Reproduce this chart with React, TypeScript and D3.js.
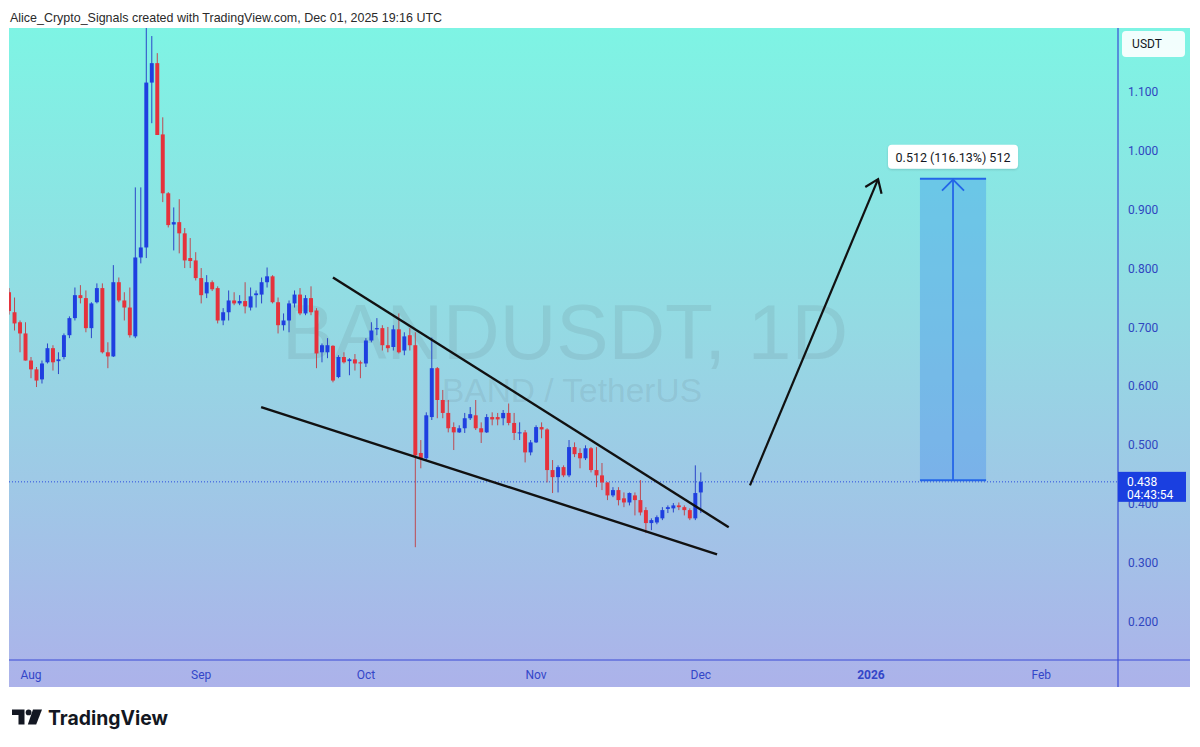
import React from "react";
import * as d3 from "d3";

// ---------------- DATA ----------------
const FIRST_DAY = "2025-07-28";
const LAST_DAY_EXCL = "2025-12-02";

const OPEN = [
  0.760, 0.726, 0.709, 0.690,
  0.644, 0.629, 0.612, 0.641, 0.665, 0.643, 0.650, 0.687, 0.716, 0.755, 0.750, 0.699, 0.743, 0.767, 0.658, 0.651,
  0.777, 0.746, 0.734, 0.685, 0.819, 0.836, 1.116, 1.149, 1.028, 0.928, 0.875, 0.879, 0.860, 0.818, 0.814,
  0.784, 0.758, 0.777, 0.767, 0.712, 0.726, 0.746, 0.741, 0.745, 0.734, 0.755, 0.756, 0.777, 0.787, 0.743,
  0.704, 0.712, 0.741, 0.756, 0.724, 0.750, 0.729, 0.658, 0.658, 0.669, 0.616, 0.650, 0.643, 0.646, 0.641,
  0.639, 0.678, 0.697, 0.699, 0.670, 0.667, 0.697, 0.661, 0.687, 0.670, 0.487, 0.478, 0.548, 0.631, 0.577,
  0.555, 0.531, 0.522, 0.529, 0.546, 0.551, 0.529, 0.522, 0.548, 0.548, 0.546, 0.555, 0.538, 0.521, 0.522,
  0.488, 0.505, 0.531, 0.527, 0.458, 0.446, 0.463, 0.449, 0.497, 0.487, 0.478, 0.495, 0.458, 0.449, 0.437,
  0.415, 0.424, 0.410, 0.403, 0.415, 0.407, 0.390, 0.368, 0.369, 0.376, 0.392, 0.393, 0.398, 0.395, 0.390,
  0.376, 0.420,
];
const HIGH = [
  0.767, 0.751, 0.712, 0.709,
  0.650, 0.633, 0.644, 0.673, 0.670, 0.658, 0.690, 0.719, 0.768, 0.772, 0.763, 0.743, 0.775, 0.775, 0.675, 0.806,
  0.785, 0.760, 0.768, 0.938, 0.938, 1.210, 1.195, 1.166, 1.057, 0.930, 0.904, 0.918, 0.869, 0.852, 0.828,
  0.801, 0.789, 0.780, 0.770, 0.733, 0.763, 0.760, 0.755, 0.777, 0.768, 0.763, 0.785, 0.802, 0.789, 0.751,
  0.724, 0.746, 0.763, 0.767, 0.755, 0.770, 0.733, 0.673, 0.682, 0.670, 0.653, 0.658, 0.648, 0.655, 0.644,
  0.682, 0.709, 0.716, 0.704, 0.701, 0.704, 0.724, 0.692, 0.699, 0.692, 0.509, 0.556, 0.683, 0.633, 0.594,
  0.577, 0.539, 0.534, 0.555, 0.565, 0.577, 0.539, 0.553, 0.556, 0.555, 0.560, 0.571, 0.555, 0.539, 0.526,
  0.509, 0.534, 0.539, 0.529, 0.475, 0.466, 0.466, 0.509, 0.505, 0.495, 0.500, 0.497, 0.497, 0.470, 0.437,
  0.429, 0.429, 0.420, 0.420, 0.420, 0.441, 0.395, 0.376, 0.381, 0.395, 0.398, 0.402, 0.403, 0.398, 0.393,
  0.466, 0.454,
];
const LOW = [
  0.722, 0.695, 0.658, 0.644,
  0.614, 0.599, 0.605, 0.639, 0.627, 0.621, 0.646, 0.682, 0.712, 0.741, 0.692, 0.682, 0.741, 0.656, 0.631, 0.650,
  0.743, 0.712, 0.683, 0.682, 0.809, 0.818, 1.047, 1.027, 0.913, 0.870, 0.831, 0.826, 0.801, 0.801, 0.780,
  0.741, 0.750, 0.762, 0.707, 0.704, 0.712, 0.738, 0.738, 0.724, 0.729, 0.734, 0.741, 0.768, 0.741, 0.690,
  0.695, 0.692, 0.734, 0.721, 0.721, 0.721, 0.631, 0.641, 0.648, 0.607, 0.614, 0.639, 0.619, 0.627, 0.614,
  0.633, 0.675, 0.687, 0.661, 0.658, 0.661, 0.656, 0.653, 0.661, 0.327, 0.461, 0.475, 0.543, 0.546, 0.546,
  0.522, 0.492, 0.521, 0.521, 0.543, 0.526, 0.504, 0.521, 0.534, 0.534, 0.534, 0.534, 0.509, 0.509, 0.471,
  0.483, 0.504, 0.512, 0.437, 0.419, 0.420, 0.446, 0.446, 0.480, 0.461, 0.475, 0.454, 0.429, 0.424, 0.407,
  0.412, 0.398, 0.395, 0.398, 0.381, 0.381, 0.351, 0.356, 0.366, 0.373, 0.385, 0.386, 0.390, 0.381, 0.373,
  0.373, 0.385,
];
const CLOSE = [
  0.728, 0.707, 0.690, 0.644,
  0.629, 0.610, 0.639, 0.665, 0.641, 0.646, 0.687, 0.716, 0.755, 0.750, 0.699, 0.741, 0.767, 0.658, 0.651, 0.777,
  0.746, 0.734, 0.687, 0.819, 0.836, 1.116, 1.149, 1.027, 0.928, 0.874, 0.879, 0.860, 0.814, 0.813, 0.784,
  0.755, 0.777, 0.765, 0.712, 0.726, 0.746, 0.741, 0.745, 0.736, 0.753, 0.758, 0.777, 0.787, 0.743, 0.704,
  0.712, 0.741, 0.756, 0.724, 0.750, 0.726, 0.656, 0.670, 0.670, 0.610, 0.650, 0.641, 0.646, 0.639, 0.639,
  0.678, 0.695, 0.699, 0.670, 0.665, 0.697, 0.658, 0.685, 0.670, 0.483, 0.478, 0.551, 0.631, 0.577, 0.555,
  0.529, 0.522, 0.529, 0.546, 0.553, 0.529, 0.522, 0.548, 0.544, 0.544, 0.555, 0.538, 0.521, 0.522, 0.488,
  0.505, 0.531, 0.527, 0.458, 0.446, 0.463, 0.449, 0.497, 0.485, 0.478, 0.495, 0.458, 0.449, 0.437, 0.415,
  0.424, 0.407, 0.403, 0.419, 0.407, 0.386, 0.368, 0.373, 0.378, 0.390, 0.395, 0.398, 0.395, 0.390, 0.376,
  0.419, 0.438,
];

const PRICE_TICKS = [0.2, 0.3, 0.4, 0.5, 0.6, 0.7, 0.8, 0.9, 1.0, 1.1];
const TIME_TICKS = ["2025-08-01", "2025-09-01", "2025-10-01", "2025-11-01", "2025-12-01", "2026-01-01", "2026-02-01"];
const TIME_LABELS = ["Aug", "Sep", "Oct", "Nov", "Dec", "2026", "Feb"];

const LAST_PRICE = 0.438;
const COUNTDOWN = "04:43:54";

// drawings (date, price)
const UPPER_TREND = [
  { t: "2025-09-25T00:00Z", p: 0.785 },
  { t: "2025-12-06T02:00Z", p: 0.361 },
];
const LOWER_TREND = [
  { t: "2025-09-11T22:00Z", p: 0.565 },
  { t: "2025-12-03T23:00Z", p: 0.315 },
];
const ARROW = [
  { t: "2025-12-09T23:00Z", p: 0.432 },
  { t: "2026-01-02T07:00Z", p: 0.952 },
];
const RANGE_FROM = "2026-01-09T22:00Z";
const RANGE_TO = "2026-01-21T23:00Z";
const RANGE_LOW = 0.4409;
const RANGE_HIGH = 0.9529;
const RANGE_LABEL = "0.512 (116.13%) 512";

// ---------------- LAYOUT ----------------
const W = 1200;
const H = 747;
const PANEL_L = 9;
const PANEL_R = 1190;
const PANEL_T = 28;
const PLOT_R = 1118;
const PLOT_B = 660;
const AXIS_B = 687;

const UP = "#1f3fe0";
const DOWN = "#e5323c";
const UP_WICK = "#2b46c9";
const DOWN_WICK = "#bd4a52";
const AXIS_BLUE = "#3a4bd6";

export default function App() {
  const days = d3.utcDay.range(new Date(FIRST_DAY), new Date(LAST_DAY_EXCL));
  const candles = days.map((d, i) => ({
    d,
    o: OPEN[i],
    h: HIGH[i],
    l: LOW[i],
    c: CLOSE[i],
  }));

  const x = d3
    .scaleUtc()
    .domain([new Date("2025-08-01"), new Date("2026-02-01")])
    .range([31, 1041.2]);
  const y = d3.scaleLinear().domain([0.2, 1.1]).range([622, 92]);

  const step = x(new Date("2025-08-02")) - x(new Date("2025-08-01"));
  const bw = step * 0.72;

  const line = d3
    .line<{ t: string; p: number }>()
    .x((d) => x(new Date(d.t)))
    .y((d) => y(d.p));

  // arrow head
  const ax0 = x(new Date(ARROW[0].t));
  const ay0 = y(ARROW[0].p);
  const ax1 = x(new Date(ARROW[1].t));
  const ay1 = y(ARROW[1].p);
  const ang = Math.atan2(ay1 - ay0, ax1 - ax0);
  const hl = 15;
  const spread = Math.PI / 5;
  const head = [
    [ax1 + hl * Math.cos(ang + Math.PI - spread), ay1 + hl * Math.sin(ang + Math.PI - spread)],
    [ax1, ay1],
    [ax1 + hl * Math.cos(ang + Math.PI + spread), ay1 + hl * Math.sin(ang + Math.PI + spread)],
  ];

  const rx0 = x(new Date(RANGE_FROM));
  const rx1 = x(new Date(RANGE_TO));
  const ryT = y(RANGE_HIGH);
  const ryB = y(RANGE_LOW);
  const rcx = (rx0 + rx1) / 2;

  const fmt = d3.format(".3f");
  const lastY = y(LAST_PRICE);

  return (
    <svg
      width={W}
      height={H}
      viewBox={`0 0 ${W} ${H}`}
      style={{ position: "absolute", left: 0, top: 0, background: "#ffffff" }}
    >
      <defs>
        <linearGradient id="bg" gradientUnits="userSpaceOnUse" x1="0" y1={PANEL_T} x2="0" y2={AXIS_B}>
          <stop offset="0" stopColor="#7ef4e4" />
          <stop offset="0.45" stopColor="#94dae3" />
          <stop offset="1" stopColor="#acb2ea" />
        </linearGradient>
        <clipPath id="plotClip">
          <rect x={PANEL_L} y={PANEL_T} width={PLOT_R - PANEL_L} height={PLOT_B - PANEL_T} />
        </clipPath>
        <filter id="shadow" x="-10%" y="-30%" width="120%" height="160%">
          <feDropShadow dx="0" dy="1" stdDeviation="1" floodColor="#000" floodOpacity="0.15" />
        </filter>
      </defs>

      {/* header */}
      <text
        x={10}
        y={22}
        fontFamily="'Liberation Sans', Arial, sans-serif"
        fontSize={13.5}
        fill="#2a2a2a"
        textLength={432}
        lengthAdjust="spacingAndGlyphs"
      >
        Alice_Crypto_Signals created with TradingView.com, Dec 01, 2025 19:16 UTC
      </text>

      {/* panel background */}
      <rect x={PANEL_L} y={PANEL_T} width={PANEL_R - PANEL_L} height={AXIS_B - PANEL_T} fill="url(#bg)" />

      {/* watermark */}
      <g fontFamily="'Liberation Sans', Arial, sans-serif" fill="#5a6e78" fillOpacity={0.14}>
        <text x={565} y={359} fontSize={78} textAnchor="middle" textLength={566} lengthAdjust="spacingAndGlyphs">
          BANDUSDT, 1D
        </text>
        <text x={572} y={402} fontSize={33} textAnchor="middle" textLength={260} lengthAdjust="spacingAndGlyphs">
          BAND / TetherUS
        </text>
      </g>

      <g clipPath="url(#plotClip)">
        {/* last price dotted line */}
        <line
          x1={PANEL_L}
          x2={PLOT_R}
          y1={lastY}
          y2={lastY}
          stroke="#2a4be0"
          strokeWidth={1}
          strokeDasharray="1 2"
        />

        {/* candles */}
        {candles.map((k, i) => {
          const cx = x(k.d);
          const up = k.c >= k.o;
          const top = y(Math.max(k.o, k.c));
          const bot = y(Math.min(k.o, k.c));
          return (
            <g key={i}>
              <line
                x1={cx}
                x2={cx}
                y1={y(k.h)}
                y2={y(k.l)}
                stroke={up ? UP_WICK : DOWN_WICK}
                strokeWidth={1}
              />
              <rect
                x={cx - bw / 2}
                y={top}
                width={bw}
                height={Math.max(1, bot - top)}
                fill={up ? UP : DOWN}
              />
            </g>
          );
        })}

        {/* trend lines */}
        <path d={line(UPPER_TREND) || ""} stroke="#111" strokeWidth={2.4} fill="none" />
        <path d={line(LOWER_TREND) || ""} stroke="#111" strokeWidth={2.4} fill="none" />
        <path d={line(ARROW) || ""} stroke="#111" strokeWidth={2.2} fill="none" />
        <polyline
          points={head.map((p) => p.join(",")).join(" ")}
          stroke="#111"
          strokeWidth={2.2}
          fill="none"
          strokeLinejoin="miter"
        />

        {/* price range tool */}
        <rect x={rx0} y={ryT} width={rx1 - rx0} height={ryB - ryT} fill="rgba(30,120,240,0.28)" />
        <line x1={rx0} x2={rx1} y1={ryT} y2={ryT} stroke="#2466e8" strokeWidth={2} />
        <line x1={rx0} x2={rx1} y1={ryB} y2={ryB} stroke="#2466e8" strokeWidth={2} />
        <line x1={rcx} x2={rcx} y1={ryB} y2={ryT + 1} stroke="#2466e8" strokeWidth={1.8} />
        <polyline
          points={`${rcx - 11},${ryT + 12} ${rcx},${ryT + 1} ${rcx + 11},${ryT + 12}`}
          stroke="#2466e8"
          strokeWidth={1.8}
          fill="none"
        />
      </g>

      {/* range label */}
      <g filter="url(#shadow)">
        <rect x={rcx - 65} y={ryT - 34} width={130} height={24} rx={4} fill="#ffffff" />
      </g>
      <text
        x={rcx}
        y={ryT - 17}
        textAnchor="middle"
        fontFamily="Roboto, 'Liberation Sans', Arial, sans-serif"
        fontSize={12.5}
        fill="#131722"
      >
        {RANGE_LABEL}
      </text>

      {/* axes lines */}
      <line x1={PLOT_R} x2={PLOT_R} y1={PANEL_T} y2={AXIS_B} stroke={AXIS_BLUE} strokeWidth={1.2} />
      <line x1={PANEL_L} x2={PANEL_R} y1={PLOT_B} y2={PLOT_B} stroke={AXIS_BLUE} strokeWidth={1.2} />

      {/* price axis labels */}
      <g fontFamily="Roboto, 'Liberation Sans', Arial, sans-serif" fontSize={12} fill="#2f46c0">
        {PRICE_TICKS.map((p) => (
          <text key={p} x={1128} y={y(p) + 4}>
            {fmt(p)}
          </text>
        ))}
      </g>

      {/* USDT box */}
      <rect x={1122} y={31} width={63} height={26} rx={4} fill="#ffffff" fillOpacity={0.9} />
      <text
        x={1147}
        y={48}
        textAnchor="middle"
        fontFamily="Roboto, 'Liberation Sans', Arial, sans-serif"
        fontSize={12}
        fill="#131722"
      >
        USDT
      </text>

      {/* last price box */}
      <rect x={PLOT_R} y={lastY - 10} width={68} height={30} fill="#1a3fe0" />
      <g fontFamily="Roboto, 'Liberation Sans', Arial, sans-serif" fontSize={12} fill="#ffffff">
        <text x={1127} y={lastY + 4}>
          {fmt(LAST_PRICE)}
        </text>
        <text x={1127} y={lastY + 17}>
          {COUNTDOWN}
        </text>
      </g>

      {/* time axis labels */}
      <g fontFamily="Roboto, 'Liberation Sans', Arial, sans-serif" fontSize={12} fill="#3346c8">
        {TIME_TICKS.map((t, i) => (
          <text
            key={t}
            x={x(new Date(t))}
            y={679}
            textAnchor="middle"
            fontWeight={TIME_LABELS[i] === "2026" ? 700 : 400}
          >
            {TIME_LABELS[i]}
          </text>
        ))}
      </g>

      {/* TradingView logo */}
      <g fill="#131722">
        <path d="M12,709.5 H24.5 V724.5 H18.5 V715 H12 Z" />
        <circle cx={28.6} cy={712.4} r={2.9} />
        <path d="M33,709.5 H42 L36.2,724.5 H27.8 Z" />
        <text
          x={48}
          y={724.5}
          fontFamily="Inter, 'Liberation Sans', Arial, sans-serif"
          fontWeight={700}
          fontSize={20}
          textLength={120}
          lengthAdjust="spacingAndGlyphs"
        >
          TradingView
        </text>
      </g>
    </svg>
  );
}
